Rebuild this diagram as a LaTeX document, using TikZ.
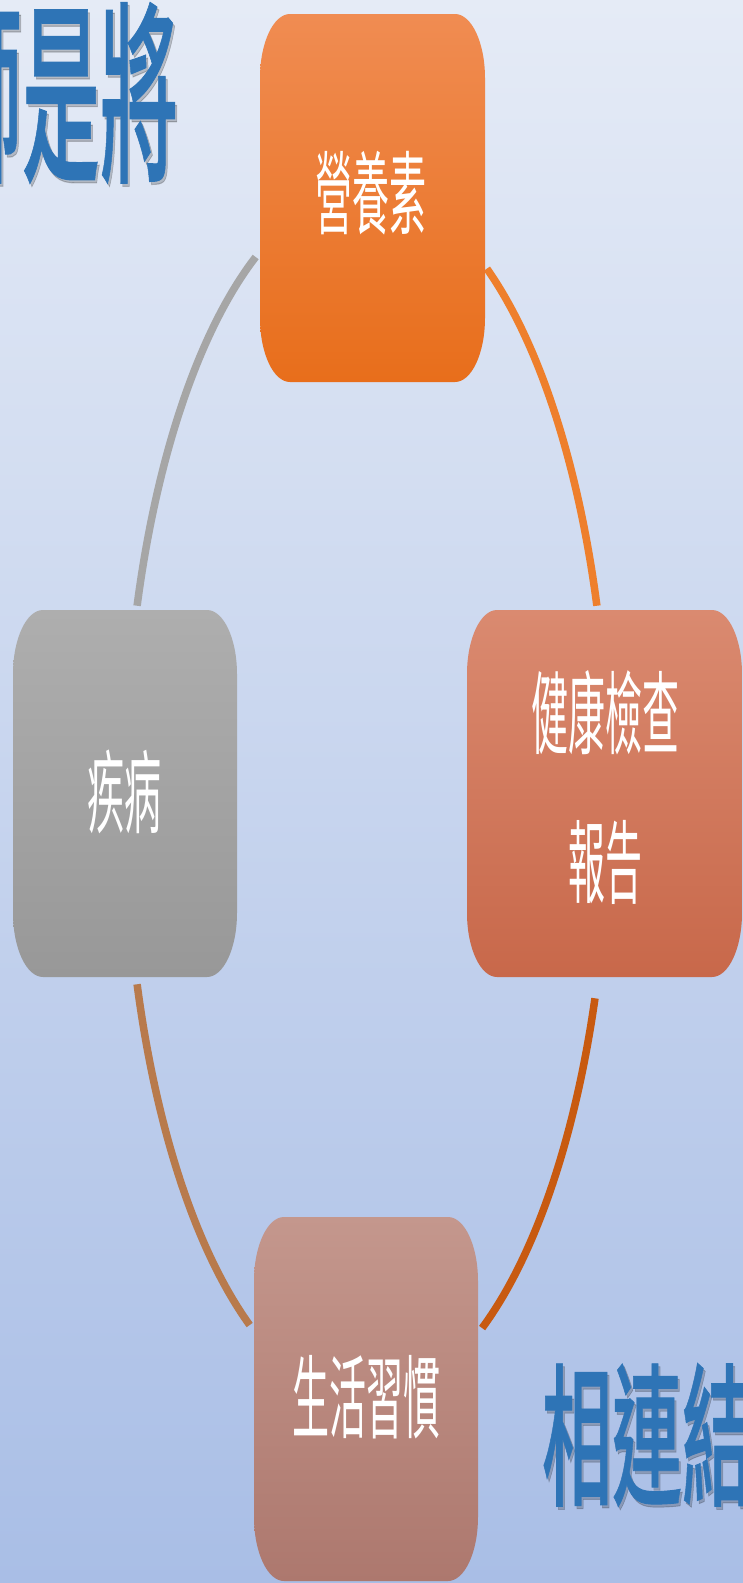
\documentclass[tikz,border=0pt]{standalone}
\usepackage{fontspec}
\newfontfamily\cjk{Noto Sans CJK TC}
\newfontfamily\cjkm{Noto Sans CJK TC}[UprightFont=* Medium,UprightFeatures={FakeBold=0.6}]
\definecolor{bgtop}{HTML}{E5EBF6}
\definecolor{bgbot}{HTML}{A9BEE6}
\definecolor{ntop}{HTML}{F08C52}
\definecolor{nbot}{HTML}{E86E1B}
\definecolor{rtop}{HTML}{DA8A70}
\definecolor{rbot}{HTML}{C8684A}
\definecolor{ltop}{HTML}{AEAEAE}
\definecolor{lbot}{HTML}{989898}
\definecolor{btop}{HTML}{C4978D}
\definecolor{bbot}{HTML}{AD786E}
\definecolor{arcTR}{HTML}{EE7F2C}
\definecolor{arcTL}{HTML}{A6A6A6}
\definecolor{arcBL}{HTML}{B87A4C}
\definecolor{arcBR}{HTML}{C85A10}
\definecolor{titleblue}{HTML}{2E74B6}
\newcommand\ebox[6]{%
  \shade[top color=#5,bottom color=#6]
    (#1+30,#2) -- (#3-30,#2)
    arc[start angle=90,end angle=0,x radius=30pt,y radius=64pt]
    -- (#3,#4+64)
    arc[start angle=0,end angle=-90,x radius=30pt,y radius=64pt]
    -- (#1+30,#4)
    arc[start angle=270,end angle=180,x radius=30pt,y radius=64pt]
    -- (#1,#2-64)
    arc[start angle=180,end angle=90,x radius=30pt,y radius=64pt]
    -- cycle;}
\tikzset{
  lbl/.style={text=white,font=\cjk\fontsize{37}{61}\selectfont,inner sep=0pt,align=center},
  arcline/.style={line width=7.5pt,line cap=butt},
  title/.style={text=titleblue,inner sep=0pt},
  titleshadow/.style={text=black,opacity=0.2,inner sep=0pt}
}
\begin{document}
\begin{tikzpicture}[x=1pt,y=1pt]
\useasboundingbox (0,0) rectangle (743,-1583);
\shade[top color=bgtop,bottom color=bgbot] (0,0) rectangle (743,-1583);

% titles
\node[titleshadow,font=\cjkm\fontsize{78}{78}\selectfont] at (63,-96) {\scalebox{1}[2.5]{師是將}};
\node[title,font=\cjkm\fontsize{78}{78}\selectfont] (t1) at (61,-93) {\scalebox{1}[2.5]{師是將}};
\node[titleshadow,font=\cjkm\fontsize{70}{70}\selectfont] at (649,-1438) {\scalebox{1}[2.2]{相連結}};
\node[title,font=\cjkm\fontsize{70}{70}\selectfont] (t2) at (647,-1435) {\scalebox{1}[2.2]{相連結}};

% connectors (elliptical cycle)
\coordinate (c) at (367,-795);
\draw[arcline,arcTR] (c) ++(60.3:242pt and 606pt) arc[start angle=60.3,end angle=18.2,x radius=242pt,y radius=606pt];
\draw[arcline,arcBR] (c) ++(-19.6:242pt and 606pt) arc[start angle=-19.6,end angle=-61.6,x radius=242pt,y radius=606pt];
\draw[arcline,arcBL] (c) ++(241:242pt and 606pt) arc[start angle=241,end angle=198.2,x radius=242pt,y radius=606pt];
\draw[arcline,arcTL] (c) ++(161.8:242pt and 606pt) arc[start angle=161.8,end angle=117.4,x radius=242pt,y radius=606pt];

% boxes
\ebox{260}{-14}{485}{-382}{ntop}{nbot}
\ebox{467}{-610}{742}{-977}{rtop}{rbot}
\ebox{13}{-610}{237}{-977}{ltop}{lbot}
\ebox{254}{-1217}{478}{-1581}{btop}{bbot}

\node[lbl] (n) at (371,-193) {\scalebox{1}[2.45]{營養素}};
\node[lbl] (r) at (605,-792) {\scalebox{1}[2.45]{\begin{tabular}{@{}c@{}}健康檢查\\報告\end{tabular}}};
\node[lbl] (l) at (124,-792) {\scalebox{1}[2.45]{疾病}};
\node[lbl] (b) at (366,-1397) {\scalebox{1}[2.45]{生活習慣}};
\end{tikzpicture}
\end{document}
